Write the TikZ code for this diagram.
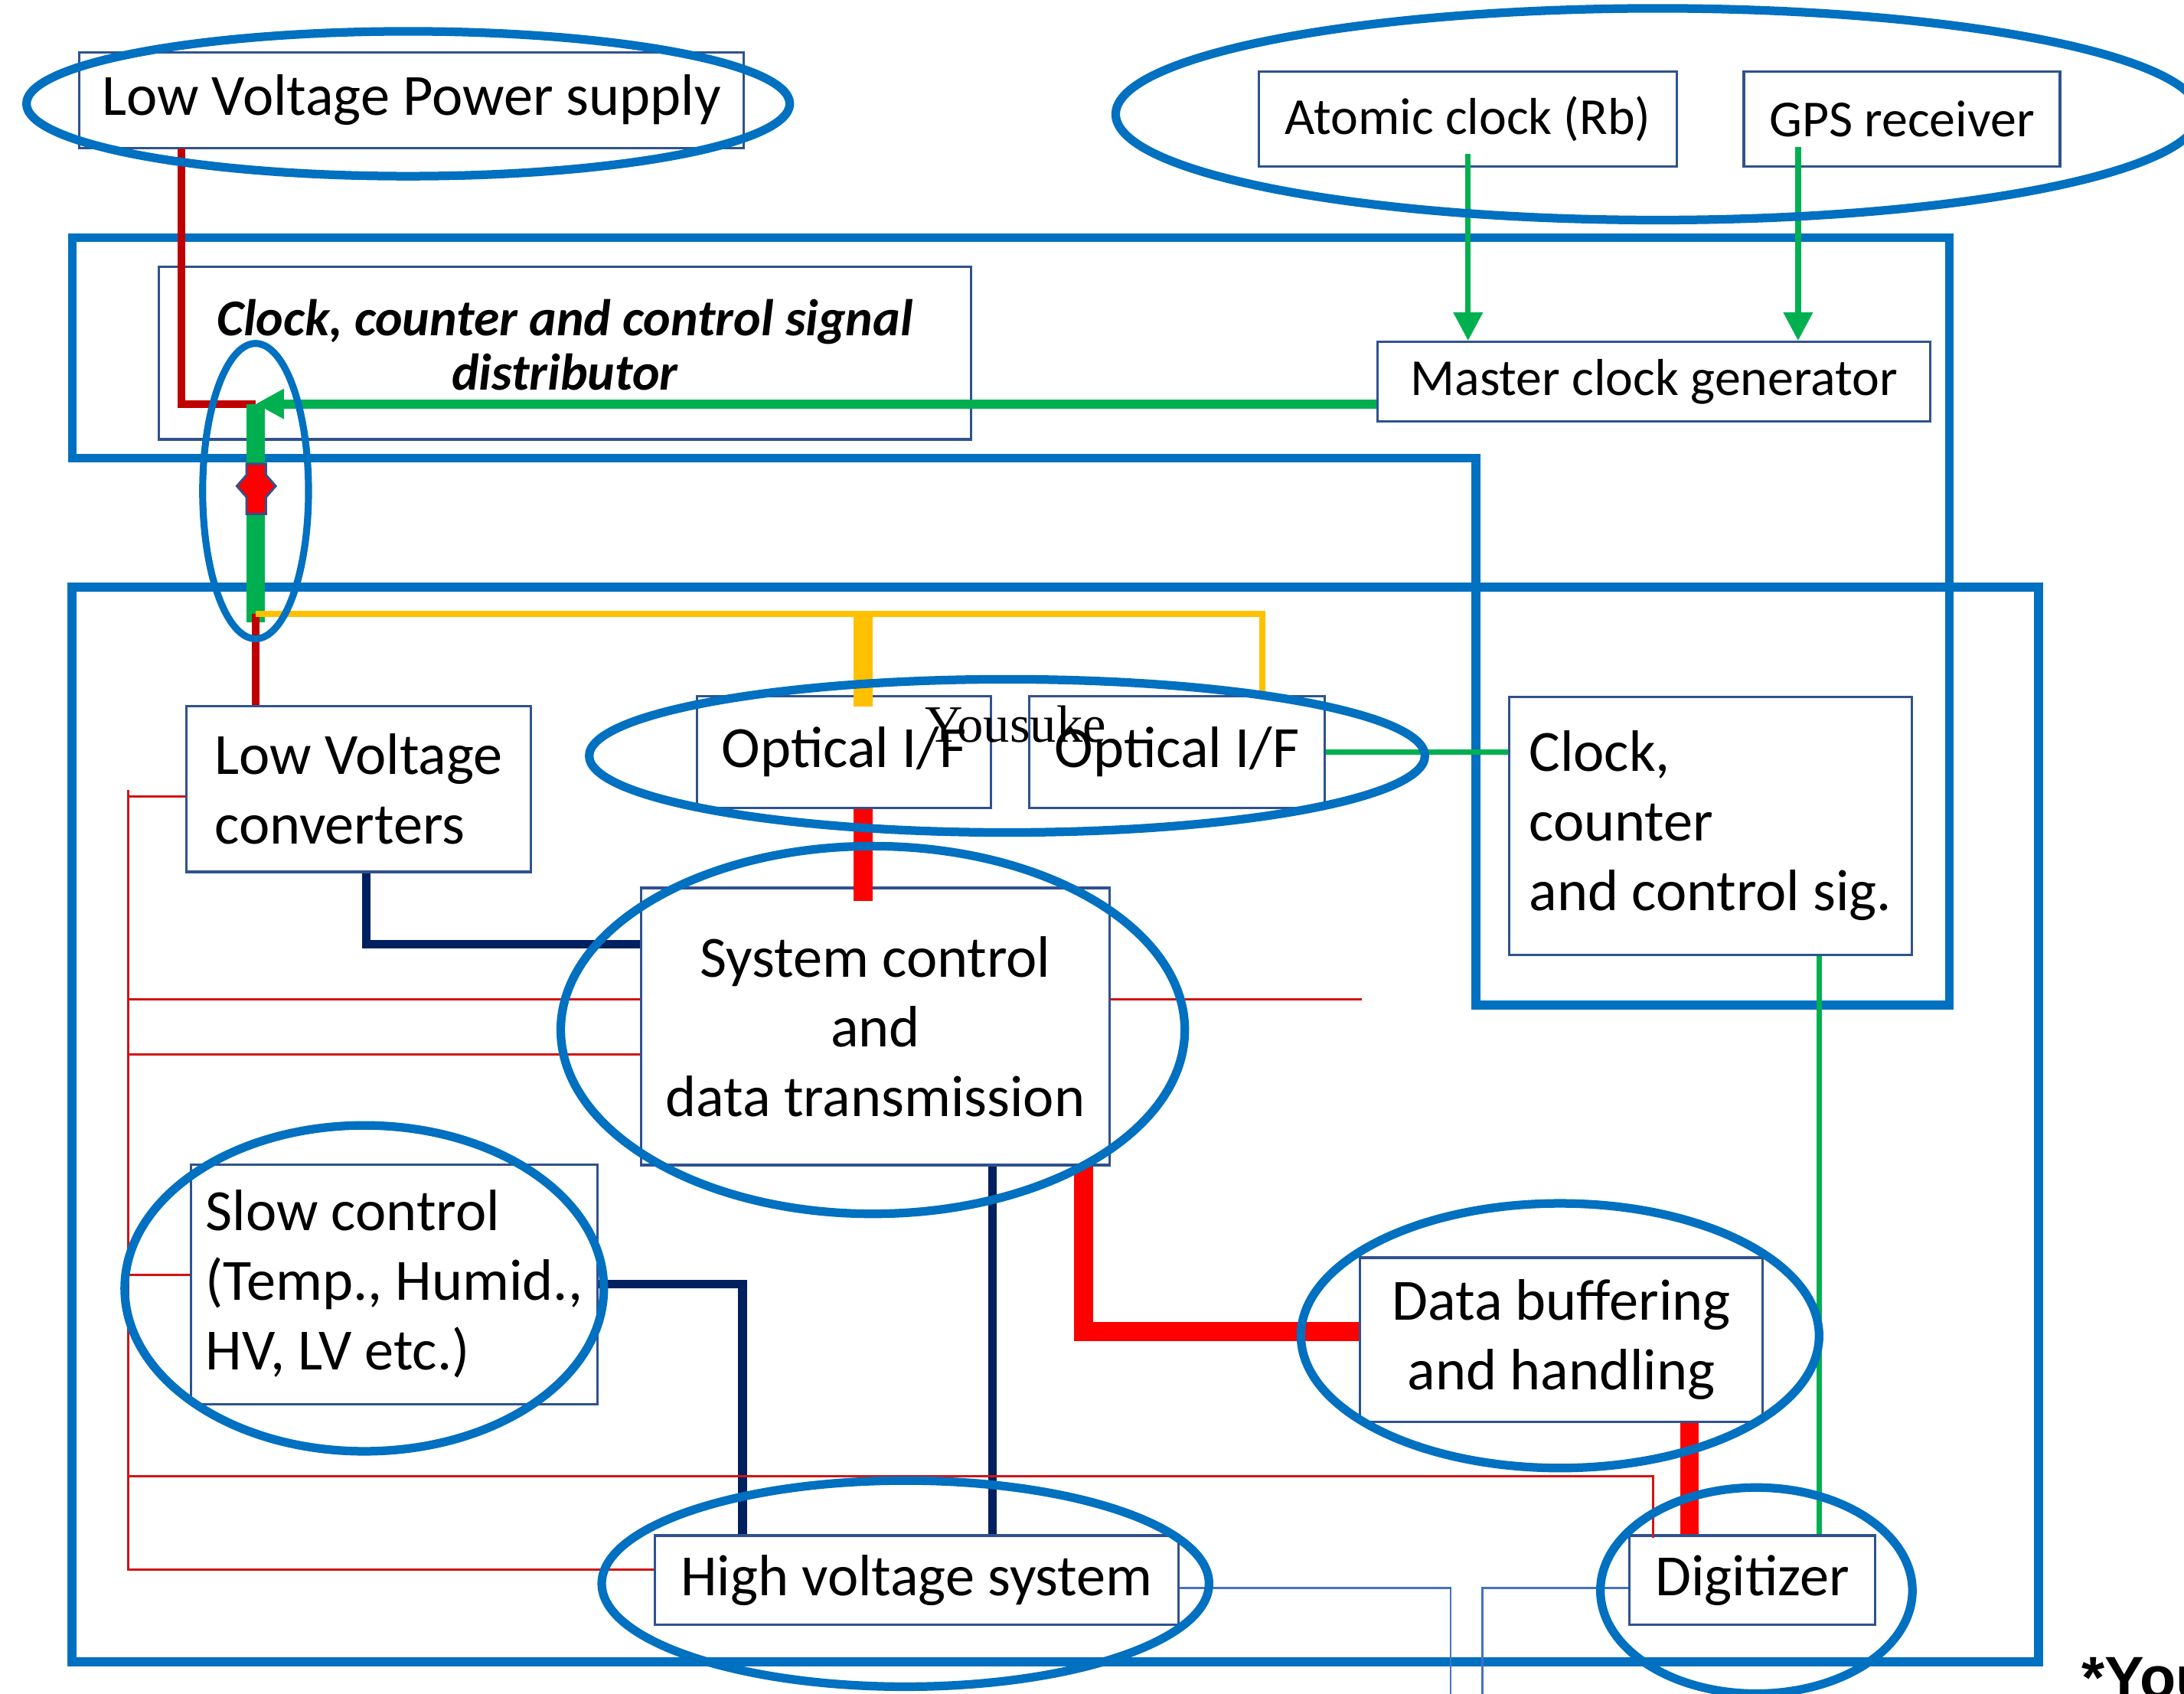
\documentclass[tikz,border=0pt]{standalone}
\usepackage{fontspec}
\setmainfont{Carlito}
\newfontfamily\wmfont{Liberation Serif}
\newfontfamily\notefont{Liberation Sans}
\usepackage{tikz}
\usetikzlibrary{positioning,arrows.meta}

\definecolor{ringblue}{RGB}{0,112,192}
\definecolor{boxline}{RGB}{47,82,143}
\definecolor{clkgreen}{RGB}{0,176,80}
\definecolor{pwrred}{RGB}{192,0,0}
\definecolor{datred}{RGB}{255,0,0}
\definecolor{busyellow}{RGB}{255,192,0}
\definecolor{ctrlnavy}{RGB}{0,32,96}
\definecolor{auxred}{RGB}{210,20,20}
\definecolor{auxblue}{RGB}{68,114,196}

\tikzset{
  blk/.style={draw=boxline, line width=0.9pt, inner sep=0pt},
  wh/.style 2 args={minimum width=#1*0.018195cm, minimum height=#2*0.018195cm},
  small/.style={font=\fontsize{19.3}{24}\selectfont},
  frame/.style={draw=ringblue, line width=3.3pt, line join=miter},
  ring/.style={draw=ringblue, line width=3.2pt},
  clk/.style={draw=clkgreen, line width=3.4pt},
  clkthin/.style={draw=clkgreen, line width=2.1pt},
  tip/.style={-{Triangle[length=3.7mm, width=3.7mm]}},
  pwr/.style={draw=pwrred, line width=2.8pt},
  data/.style={draw=datred, line width=7pt},
  bus/.style={draw=busyellow, line width=2.3pt},
  ctrl/.style={draw=ctrlnavy, line width=3.2pt},
  aux/.style={draw=auxred, line width=0.8pt},
  auxb/.style={draw=auxblue, line width=0.8pt}
}

\begin{document}
\begin{tikzpicture}[x=0.018195cm, y=-0.018195cm, node distance=1cm,
  every node/.style={font=\fontsize{21.7}{25.9}\selectfont}]
\useasboundingbox (0,0) rectangle (1568,1216);
\clip (0,0) rectangle (1568,1216);

% frames
\draw[frame] (52,170.6) -- (1399.5,170.6) -- (1399.5,721.7) -- (1059.5,721.7)
  -- (1059.5,329) -- (52,329) -- cycle;
\draw[frame] (51.5,421.5) rectangle (1463.5,1193);

% boxes
\node(lvps)	[blk, wh={477}{69}] at (295.5,72) {Low Voltage Power supply};
\node(atom)	[blk, wh={300}{68}, small] at (1054,85.5) {Atomic clock (Rb)};
\node(gps)	[blk, wh={227}{68}, small, right=0.84cm of atom] {GPS receiver};
\node(dist)	[blk, wh={583}{124}, align=center, text depth=0.22cm,
  font=\fontsize{19.2}{20.2}\selectfont\bfseries\itshape] at (405.5,253.5)
{Clock, counter and control signal\\distributor};
\node(mcg)	[blk, wh={397}{57}, small] at (1187.5,274) {Master clock generator};
\node(lvc)	[blk, wh={247}{119}, align=left] at (257.5,566.5)
{Low Voltage\\converters};
\node(opt1)	[blk, wh={211}{80}] at (606,540) {Optical I/F};
\node(opt2)	[blk, wh={212}{80}, right=0.47cm of opt1] {Optical I/F};
\node(ccc)	[blk, wh={289}{185}, align=left] at (1228,593)
{Clock,\\counter\\and control sig.};
\node(sys)	[blk, wh={336}{199}, align=center] at (628.5,737)
{System control\\and\\data transmission};
\node(slow)	[blk, wh={292}{172}, align=left] at (283,922)
{Slow control\\(Temp., Humid.,\\HV, LV etc.)};
\node(buf)	[blk, wh={289}{118}, align=center] at (1121,962)
{Data buffering\\and handling};
\node(hv)	[blk, wh={376}{64}] at (658,1134.5) {High voltage system};
\node(dig)	[blk, wh={176}{64}] at (1258,1134.5) {Digitizer};

\coordinate(jt) at (183.5,290);
\coordinate(jy) at (183.5,441);
\coordinate(ys) at (619.5,443);
\coordinate(ye) at (906.5,500);
\coordinate(tl) at (92,567);

% clock lines
\draw[clkthin, tip] (atom.south) ++(0,-10) coordinate(a0) -- (a0 |- mcg.north);
\draw[clkthin, tip] (gps.south) ++(-74.5,-15) coordinate(g0) -- (g0 |- mcg.north);
\draw[clk, tip] (jt -| mcg.west) -- (jt);
\draw[pwr] (lvps.south west) ++(74,-1) |- (jt);
\draw[draw=clkgreen, line width=7pt] (jt) -- (183.5,447);
\draw[pwr] (jy) -- (jy |- lvc.north);
\draw[draw=boxline, fill=datred, line width=0.8pt] (177,333) -- (191,333) -- (191,341)
  -- (198,349) -- (191,357) -- (191,369) -- (177,369) -- (177,357) -- (170,349)
  -- (177,341) -- cycle;
\draw[bus] (jy) -| (ye);
\draw[busyellow, line width=7pt] (ys) -- ++(0,64);
\draw[clkthin] (opt2.east) -- (ccc.west |- opt2.east);
\draw[clkthin] (ccc.south) ++(78,0) coordinate(c0) -- (c0 |- dig.north);

% data and control
\draw[data] (ys |- opt1.south) -- ++(0,66);
\draw[ctrl] (lvc.south) ++(5.5,0) |- (sys.west |- 0,678);
\draw[ctrl] (slow.east) -| ([xshift=64*0.018195cm]hv.north west);
\draw[ctrl] (sys.south) ++(84,0) coordinate(s0) -- (s0 |- hv.north);
\draw[data] (sys.south) ++(149.5,0) |- (buf.west |- 0,956);
\draw[data] (buf.south) ++(92,0) coordinate(b0) -- (b0 |- dig.north);

% power distribution
\draw[aux] (tl) |- (hv.west |- 0,1127);
\draw[aux] (tl |- 0,572) -- (lvc.west |- 0,572);
\draw[aux] (tl |- 0,717.6) -- (sys.west |- 0,717.6);
\draw[aux] (sys.east |- 0,717.6) -- (977.7,717.6);
\draw[aux] (tl |- 0,757) -- (sys.west |- 0,757);
\draw[aux] (tl |- 0,915.5) -- (slow.west |- 0,915.5);
\draw[aux] (tl |- 0,1060) -| (1187,1104);
\draw[auxb] (hv.east |- 0,1140) -| (1041.5,1230);
\draw[auxb] (dig.west |- 0,1140) -| (1064.5,1230);

% rings
\draw[ring] (293,74.5) ellipse [x radius=274, y radius=52];
\draw[ring] (1190,82) ellipse [x radius=389, y radius=76];
\draw[ring, line width=2.6pt] (183.5,352.6) ellipse [x radius=38, y radius=106];
\draw[ring] (723,542.7) ellipse [x radius=300, y radius=55];
\draw[ring] (626.6,739.5) ellipse [x radius=224, y radius=132];
\draw[ring] (261.5,925) ellipse [x radius=172, y radius=117];
\draw[ring] (1120,959) ellipse [x radius=186, y radius=95];
\draw[ring] (650,1137) ellipse [x radius=218, y radius=74];
\draw[ring] (1261,1142) ellipse [x radius=112, y radius=74];

\node(wm)	[anchor=base, inner sep=0pt, font=\wmfont\fontsize{19.5}{20}\selectfont]
at (729,533) {Yousuke};
\node(note)	[anchor=base west, inner sep=0pt,
  font=\notefont\bfseries\fontsize{22}{24}\selectfont] at (1494,1219) {*You};
\end{tikzpicture}
\end{document}
